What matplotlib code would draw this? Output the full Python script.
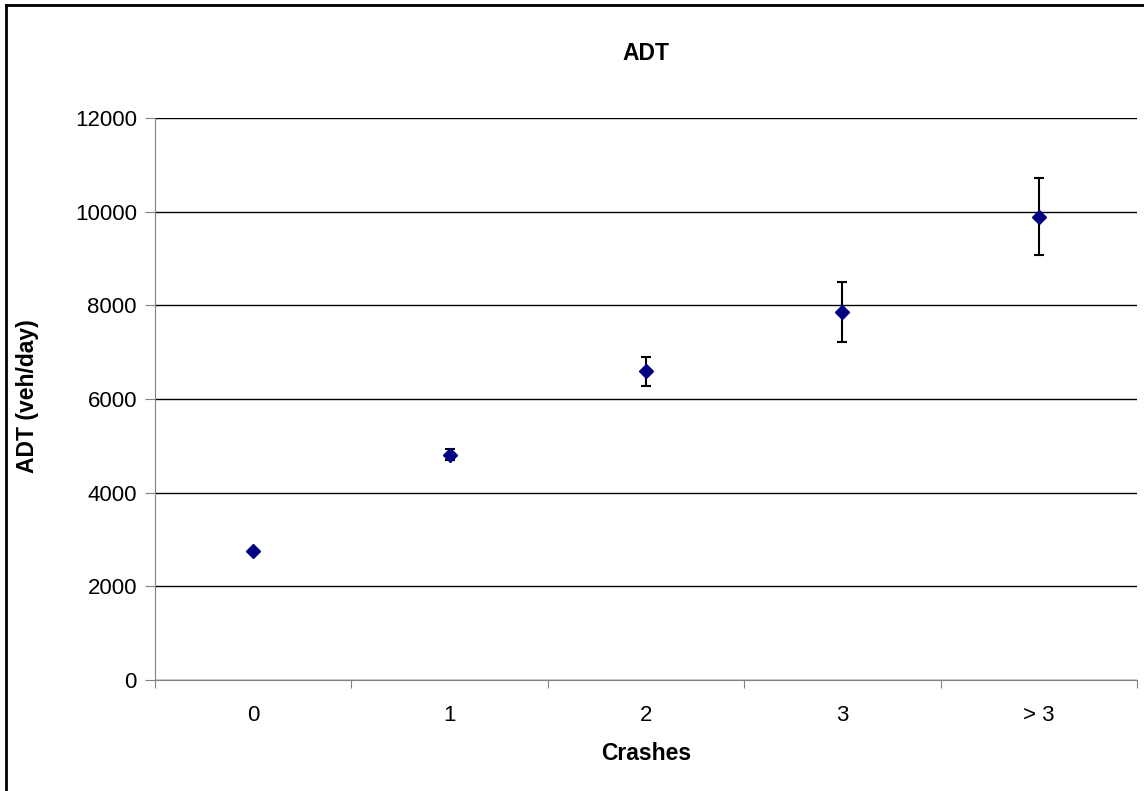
import matplotlib
matplotlib.use("Agg")
import matplotlib.pyplot as plt
from matplotlib.lines import Line2D

plt.rcParams['font.family'] = ['Liberation Sans', 'DejaVu Sans']

crashes = ["0", "1", "2", "3", "> 3"]
adt = [2750, 4810, 6590, 7860, 9890]
adt_err = [0, 120, 310, 640, 820]

fig = plt.figure(figsize=(11.44, 7.91), dpi=100)
ax = fig.add_axes([0.1355, 0.1403, 0.8584, 0.7105])

x = range(len(crashes))
ax.errorbar(x, adt, yerr=adt_err, fmt='D', color='#000080', markersize=7,
            ecolor='black', elinewidth=1.5, capsize=3.6, capthick=1.5, zorder=3)

ax.set_xlim(-0.5, len(crashes) - 0.5)
ax.set_ylim(0, 12000)
ax.set_yticks(range(0, 12001, 2000))
ax.yaxis.grid(True, color='black', linewidth=1)
ax.set_axisbelow(True)

# category ticks between the groups, labels centred
ax.set_xticks([i - 0.5 for i in range(len(crashes) + 1)])
ax.set_xticklabels([])
ax.set_xticks(list(x), minor=True)
ax.set_xticklabels(crashes, minor=True)
ax.tick_params(axis='x', which='minor', length=0, pad=18, labelsize=16)
ax.tick_params(axis='x', which='major', length=6, color='#808080')
ax.tick_params(axis='y', length=7, color='#808080', labelsize=16, pad=6)

for side in ['top', 'right']:
    ax.spines[side].set_visible(False)
for side in ['left', 'bottom']:
    ax.spines[side].set_color('#808080')

fig.text(0.5647, 1 - 53 / 791, "ADT", ha='center', va='center', fontsize=16.5, fontweight='bold')
fig.text(0.5647, 1 - 754 / 791, "Crashes", ha='center', va='center', fontsize=16.5, fontweight='bold')
fig.text(28 / 1144, 1 - 396 / 791, "ADT (veh/day)", ha='center', va='center',
         rotation=90, fontsize=16.5, fontweight='bold')

# outer chart border (left and top visible)
fig.add_artist(Line2D([6 / 1144, 6 / 1144], [0, 1 - 5 / 791], transform=fig.transFigure, color='black', linewidth=2))
fig.add_artist(Line2D([6 / 1144, 1], [1 - 5 / 791, 1 - 5 / 791], transform=fig.transFigure, color='black', linewidth=2))

fig.savefig("out.png", dpi=100)
